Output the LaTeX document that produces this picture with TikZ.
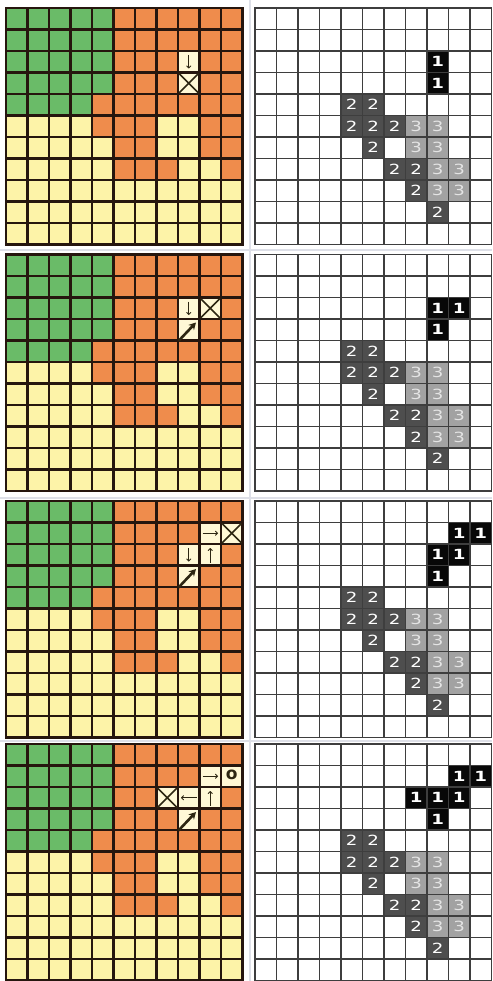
\documentclass[tikz,border=0pt]{standalone}
\usepackage{fontspec}
\setmainfont{DejaVu Sans}
\newfontfamily\digitfont[FakeStretch=1.3]{DejaVu Sans}
\usetikzlibrary{arrows.meta}
\definecolor{gr}{RGB}{106,187,104}
\definecolor{orx}{RGB}{239,140,76}
\definecolor{ye}{RGB}{253,243,168}
\definecolor{cream}{RGB}{255,248,214}
\definecolor{markc}{RGB}{45,38,18}
\definecolor{lgline}{RGB}{38,22,14}
\definecolor{rgline}{RGB}{62,62,62}
\definecolor{dk}{RGB}{8,8,8}
\definecolor{d2}{RGB}{78,78,78}
\definecolor{l3}{RGB}{162,162,162}
\definecolor{t3}{RGB}{228,228,228}
\definecolor{sepc}{RGB}{222,224,232}
\def\cellsz{21.5}
\tikzset{
  lgrid/.style={draw=lgline,line width=2.2pt,line cap=rect},
  rgrid/.style={draw=rgline,line width=1.7pt,line cap=rect},
  thinarr/.style={draw=markc,line width=0.9pt,-{To[length=3pt,width=5pt]}},
  thickarr/.style={draw=markc,line width=2.6pt,-{Stealth[length=7pt,width=7.5pt]}},
  xmark/.style={draw=markc,line width=1.6pt},
  numtxt/.style={font=\digitfont\fontsize{14}{14}\selectfont,inner sep=0pt},
  sepline/.style={draw=sepc,line width=2pt}
}
\newcommand\cellF[3]{\fill[#3] ({#1*\cellsz},{#2*\cellsz}) rectangle ++(\cellsz,\cellsz);}
\newcommand\gridL[1]{\foreach \i in {0,...,11}{\draw[#1] ({\i*\cellsz},0) -- ({\i*\cellsz},236.5); \draw[#1] (0,{\i*\cellsz}) -- (236.5,{\i*\cellsz});}}
\newcommand\arrD[2]{\draw[thinarr] ({(#1+0.5)*\cellsz},{#2*\cellsz+4}) -- ({(#1+0.5)*\cellsz},{(#2+1)*\cellsz-4});}
\newcommand\arrU[2]{\draw[thinarr] ({(#1+0.5)*\cellsz},{(#2+1)*\cellsz-3}) -- ({(#1+0.5)*\cellsz},{#2*\cellsz+4});}
\newcommand\arrR[2]{\draw[thinarr] ({#1*\cellsz+3},{(#2+0.5)*\cellsz}) -- ({(#1+1)*\cellsz-3},{(#2+0.5)*\cellsz});}
\newcommand\arrLf[2]{\draw[thinarr] ({(#1+1)*\cellsz-3},{(#2+0.5)*\cellsz}) -- ({#1*\cellsz+3},{(#2+0.5)*\cellsz});}
\newcommand\arrNE[2]{\draw[thickarr] ({#1*\cellsz+0.5},{(#2+1)*\cellsz+0.5}) -- ({(#1+1)*\cellsz-3.5},{#2*\cellsz+3.5});}
\newcommand\markX[2]{\draw[xmark] ({#1*\cellsz+1},{#2*\cellsz+1}) -- ({(#1+1)*\cellsz-1},{(#2+1)*\cellsz-1}) ({(#1+1)*\cellsz-1},{#2*\cellsz+1}) -- ({#1*\cellsz+1},{(#2+1)*\cellsz-1});}
\newcommand\leftbase{%
  \fill[ye] (0,0) rectangle (236.5,236.5);
  \fill[gr] (0,0) rectangle (107.5,86);
  \fill[gr] (0,86) rectangle (86,107.5);
  \fill[orx] (107.5,0) rectangle (236.5,86);
  \fill[orx] (86,86) rectangle (236.5,107.5);
  \fill[orx] (86,107.5) rectangle (150.5,129);
  \fill[orx] (107.5,129) rectangle (150.5,172);
  \fill[orx] (150.5,150.5) rectangle (172,172);
  \fill[orx] (193.5,107.5) rectangle (236.5,150.5);
  \fill[orx] (215,150.5) rectangle (236.5,172);
}
\newcommand\numcell[5]{\fill[#3] ({#1*\cellsz},{#2*\cellsz}) rectangle ++(\cellsz,\cellsz);
  \node[numtxt,text=#4] (n#1x#2) at ({(#1+0.5)*\cellsz},{(#2+0.5)*\cellsz}) {#5};}
\newcommand\rightbase{%
  \fill[white] (0,0) rectangle (236.5,236.5);
  \foreach \c/\r in {4/4,5/4,4/5,5/5,6/5,5/6,6/7,7/7,7/8,8/9}{\numcell{\c}{\r}{d2}{white}{2}}
  \foreach \c/\r in {7/5,8/5,7/6,8/6,8/7,9/7,8/8,9/8}{\numcell{\c}{\r}{l3}{t3}{3}}
}
\begin{document}
\begin{tikzpicture}[x=1pt,y=-1pt]
\useasboundingbox (0,0) rectangle (492,981);
\fill[white] (0,0) rectangle (492,981);
% separators
\draw[sepline] (249.5,0) -- (249.5,981);
\draw[sepline] (0,250) -- (492,250);
\draw[sepline] (0,497.5) -- (492,497.5);
\draw[sepline] (0,741) -- (492,741);
% ---------- panel 1
\begin{scope}[shift={(6,8)}]
  \leftbase
  \cellF{8}{2}{cream} \cellF{8}{3}{cream}
  \gridL{lgrid}
  \arrD{8}{2} \markX{8}{3}
\end{scope}
\begin{scope}[shift={(255,8)}]
  \rightbase
  \foreach \c/\r in {8/2,8/3}{\numcell{\c}{\r}{dk}{white}{\textbf{1}}}
  \gridL{rgrid}
\end{scope}
% ---------- panel 2
\begin{scope}[shift={(6,254.5)}]
  \leftbase
  \cellF{8}{2}{cream} \cellF{9}{2}{cream} \cellF{8}{3}{cream}
  \gridL{lgrid}
  \arrD{8}{2} \markX{9}{2} \arrNE{8}{3}
\end{scope}
\begin{scope}[shift={(255,254.5)}]
  \rightbase
  \foreach \c/\r in {8/2,9/2,8/3}{\numcell{\c}{\r}{dk}{white}{\textbf{1}}}
  \gridL{rgrid}
\end{scope}
% ---------- panel 3
\begin{scope}[shift={(6,501)}]
  \leftbase
  \cellF{9}{1}{cream} \cellF{10}{1}{cream} \cellF{8}{2}{cream} \cellF{9}{2}{cream} \cellF{8}{3}{cream}
  \gridL{lgrid}
  \arrR{9}{1} \markX{10}{1} \arrD{8}{2} \arrU{9}{2} \arrNE{8}{3}
\end{scope}
\begin{scope}[shift={(255,501)}]
  \rightbase
  \foreach \c/\r in {9/1,10/1,8/2,9/2,8/3}{\numcell{\c}{\r}{dk}{white}{\textbf{1}}}
  \gridL{rgrid}
\end{scope}
% ---------- panel 4
\begin{scope}[shift={(6,744)}]
  \leftbase
  \cellF{9}{1}{cream} \cellF{10}{1}{cream} \cellF{7}{2}{cream} \cellF{8}{2}{cream} \cellF{9}{2}{cream} \cellF{8}{3}{cream}
  \gridL{lgrid}
  \arrR{9}{1} \arrLf{8}{2} \arrU{9}{2} \markX{7}{2} \arrNE{8}{3}
  \node[font=\bfseries\fontsize{17}{17}\selectfont,text=markc,inner sep=0pt] (goal) at ({10.5*\cellsz},{1.45*\cellsz}) {o};
\end{scope}
\begin{scope}[shift={(255,744)}]
  \rightbase
  \foreach \c/\r in {9/1,10/1,7/2,8/2,9/2,8/3}{\numcell{\c}{\r}{dk}{white}{\textbf{1}}}
  \gridL{rgrid}
\end{scope}
\end{tikzpicture}
\end{document}
